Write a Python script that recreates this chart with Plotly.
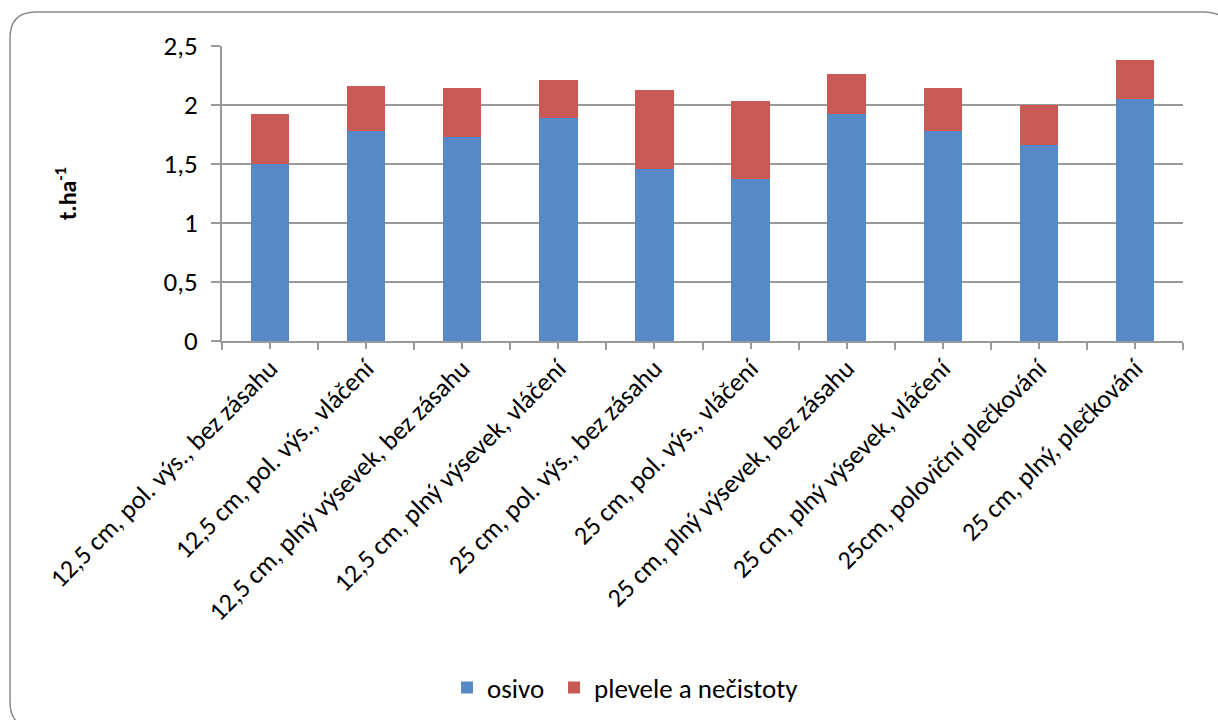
import plotly.graph_objects as go

# Seed yield split into clean seed and weeds/impurities (t/ha)
categories = [
    "12,5 cm, pol. výs., bez zásahu",
    "12,5 cm, pol. výs., vláčení",
    "12,5 cm, plný výsevek, bez zásahu",
    "12,5 cm, plný výsevek, vláčení",
    "25 cm, pol. výs., bez zásahu",
    "25 cm, pol. výs., vláčení",
    "25 cm, plný výsevek, bez zásahu",
    "25 cm, plný výsevek, vláčení",
    "25cm, poloviční plečkování",
    "25 cm, plný, plečkování",
]
osivo = [1.50, 1.78, 1.73, 1.89, 1.46, 1.37, 1.92, 1.78, 1.66, 2.05]
plevele = [0.42, 0.38, 0.41, 0.32, 0.67, 0.66, 0.34, 0.36, 0.34, 0.33]
y_ticks = [0, 0.5, 1, 1.5, 2, 2.5]

W, H = 1218, 720
ML, MR, MT, MB = 222, 35, 46, 379
PW, PH = W - ML - MR, H - MT - MB

FONT = "Calibri, Carlito, Lato, sans-serif"
GRID = "#9a9a9a"


def px_x(p):
    return (p - ML) / PW


def px_y(p):
    return (H - MB - p) / PH


fig = go.Figure()
fig.add_trace(go.Bar(name="osivo", x=categories, y=osivo, legend="legend",
                     marker=dict(color="#5689c6", line=dict(width=0))))
fig.add_trace(go.Bar(name="plevele a nečistoty", x=categories, y=plevele,
                     legend="legend2",
                     marker=dict(color="#c95955", line=dict(width=0))))

# rounded chart frame
x0, x1, y0, y1, r = 10, 1230, 12, 728, 26
path = (
    f"M {px_x(x0 + r)},{px_y(y0)} L {px_x(x1 - r)},{px_y(y0)} "
    f"Q {px_x(x1)},{px_y(y0)} {px_x(x1)},{px_y(y0 + r)} "
    f"L {px_x(x1)},{px_y(y1 - r)} Q {px_x(x1)},{px_y(y1)} {px_x(x1 - r)},{px_y(y1)} "
    f"L {px_x(x0 + r)},{px_y(y1)} Q {px_x(x0)},{px_y(y1)} {px_x(x0)},{px_y(y1 - r)} "
    f"L {px_x(x0)},{px_y(y0 + r)} Q {px_x(x0)},{px_y(y0)} {px_x(x0 + r)},{px_y(y0)} Z"
)
fig.add_shape(type="path", path=path, xref="paper", yref="paper",
              line=dict(color="#8a8a8a", width=1.5), layer="below")

# center tick marks on a companion axis
fig.add_trace(go.Scatter(x=[0], y=[0], xaxis="x2", mode="markers",
                         marker=dict(opacity=0), showlegend=False,
                         hoverinfo="skip"))

legend_style = dict(
    orientation="h", xanchor="left",
    y=px_y(688), yanchor="middle",
    font=dict(family=FONT, size=27),
    itemsizing="constant",
)

fig.update_layout(
    width=W, height=H,
    margin=dict(l=ML, r=MR, t=MT, b=MB, autoexpand=False),
    barmode="stack", bargap=0.6,
    plot_bgcolor="white", paper_bgcolor="white",
    separators=", ",
    font=dict(family=FONT, size=26, color="#000000"),
    xaxis=dict(
        type="category", tickangle=-45, tickson="boundaries",
        ticks="outside", ticklen=7, tickcolor=GRID, tickwidth=2,
        showline=True, linecolor=GRID, linewidth=2,
        showgrid=False, automargin=False,
        tickfont=dict(family=FONT, size=26),
    ),
    xaxis2=dict(
        overlaying="x", anchor="y", side="bottom",
        range=[-0.5, len(categories) - 0.5],
        tickvals=list(range(len(categories))),
        ticks="outside", ticklen=7, tickcolor=GRID, tickwidth=2,
        showticklabels=False, showgrid=False, showline=False, zeroline=False,
    ),
    yaxis=dict(
        range=[0, 2.5], tickvals=y_ticks,
        ticks="outside", ticklen=9, tickcolor=GRID, tickwidth=2,
        showline=True, linecolor=GRID, linewidth=2,
        showgrid=True, gridcolor=GRID, gridwidth=2,
        zeroline=False, automargin=False,
        ticklabelstandoff=8,
        tickfont=dict(family=FONT, size=27),
        title=dict(text="<b>t.ha<sup>-1</sup></b>",
                   font=dict(family=FONT, size=24), standoff=80),
    ),
    legend=dict(x=px_x(447), **legend_style),
    legend2=dict(x=px_x(554), **legend_style),
)

fig.write_html("out.html")
